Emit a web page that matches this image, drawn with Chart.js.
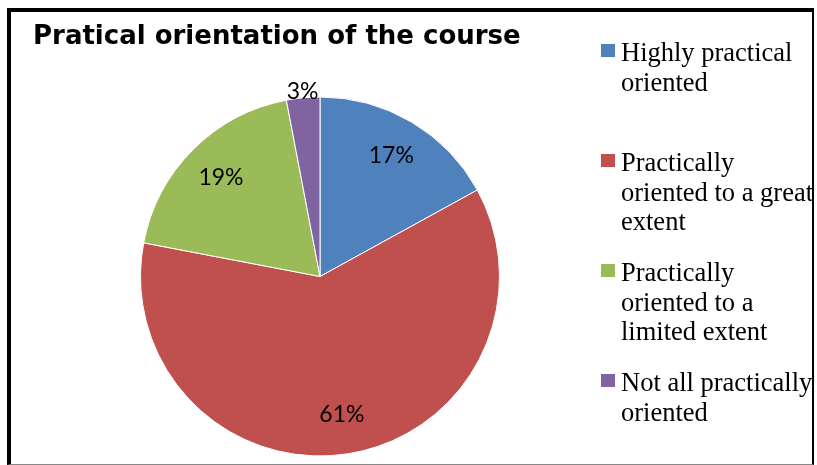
<!DOCTYPE html>
<html>
<head>
<meta charset="utf-8">
<title>Pratical orientation of the course</title>
<script src="https://cdn.jsdelivr.net/npm/chart.js@4.4.1/dist/chart.umd.min.js"></script>
<style>
  html, body { margin: 0; padding: 0; background: #fff; }
  #wrap { position: relative; width: 817px; height: 465px; overflow: hidden; }
  #frame {
    position: absolute; left: 7px; top: 8px; width: 807px; height: 457px;
    box-sizing: border-box;
    border-left: 4px solid #000; border-top: 4px solid #000;
    border-right: 2px solid #000; border-bottom: 1px solid #888;
  }
  #chart { position: absolute; left: 0; top: 0; }
</style>
</head>
<body>
<div id="wrap">
  <div id="frame"></div>
  <canvas id="chart" width="817" height="465"></canvas>
</div>
<script>
// data
const chartTitle = 'Pratical orientation of the course';
const categories = [
  'Highly practical oriented',
  'Practically oriented to a great extent',
  'Practically oriented to a limited extent',
  'Not all practically oriented'
];
const shares = [17, 61, 19, 3]; // percent
const sliceColors = ['#4F81BD', '#C0504D', '#9BBB59', '#8064A2'];

// percent labels on the slices (small slices get their label outside)
const sliceLabels = {
  id: 'sliceLabels',
  afterDatasetsDraw(chart) {
    const ctx = chart.ctx;
    const meta = chart.getDatasetMeta(0);
    const values = chart.data.datasets[0].data;
    ctx.save();
    ctx.font = '23px Lato';
    ctx.fillStyle = '#000';
    ctx.textAlign = 'center';
    ctx.textBaseline = 'middle';
    meta.data.forEach((arc, i) => {
      const p = arc.getProps(['x', 'y', 'startAngle', 'endAngle', 'outerRadius']);
      const mid = (p.startAngle + p.endAngle) / 2;
      const small = (p.endAngle - p.startAngle) < 0.3;
      const r = small ? p.outerRadius + 6 : p.outerRadius * 0.78;
      ctx.fillText(values[i] + '%', p.x + Math.cos(mid) * r, p.y + Math.sin(mid) * r);
    });
    ctx.restore();
  }
};

// title and wrapped legend on the right, drawn like the spreadsheet original
const titleAndLegend = {
  id: 'titleAndLegend',
  afterDraw(chart) {
    const ctx = chart.ctx;
    ctx.save();
    ctx.fillStyle = '#000';
    ctx.font = 'bold 26px Tahoma, "DejaVu Sans"';
    ctx.textBaseline = 'alphabetic';
    ctx.fillText(chartTitle, 33, 44);

    ctx.font = '26.5px "Liberation Serif"';
    const maxW = 197;
    chart.data.labels.forEach((label, i) => {
      const top = 44 + i * 110;
      ctx.fillStyle = chart.data.datasets[0].backgroundColor[i];
      ctx.fillRect(601, top, 14, 13);
      // word wrap
      const lines = [];
      let line = '';
      label.split(' ').forEach(w => {
        const test = line ? line + ' ' + w : w;
        if (line && ctx.measureText(test).width > maxW) {
          lines.push(line);
          line = w;
        } else {
          line = test;
        }
      });
      lines.push(line);
      ctx.fillStyle = '#000';
      lines.forEach((l, k) => ctx.fillText(l, 621, top + 17 + k * 29.5));
    });
    ctx.restore();
  }
};

new Chart(document.getElementById('chart'), {
  type: 'pie',
  data: {
    labels: categories,
    datasets: [{
      data: shares,
      backgroundColor: sliceColors,
      borderColor: '#ffffff',
      borderWidth: 1
    }]
  },
  options: {
    responsive: false,
    animation: false,
    layout: { padding: { top: 96, bottom: 8, left: 140, right: 317 } },
    plugins: {
      legend: { display: false },
      title: { display: false },
      tooltip: { enabled: false }
    }
  },
  plugins: [sliceLabels, titleAndLegend]
});
</script>
</body>
</html>
